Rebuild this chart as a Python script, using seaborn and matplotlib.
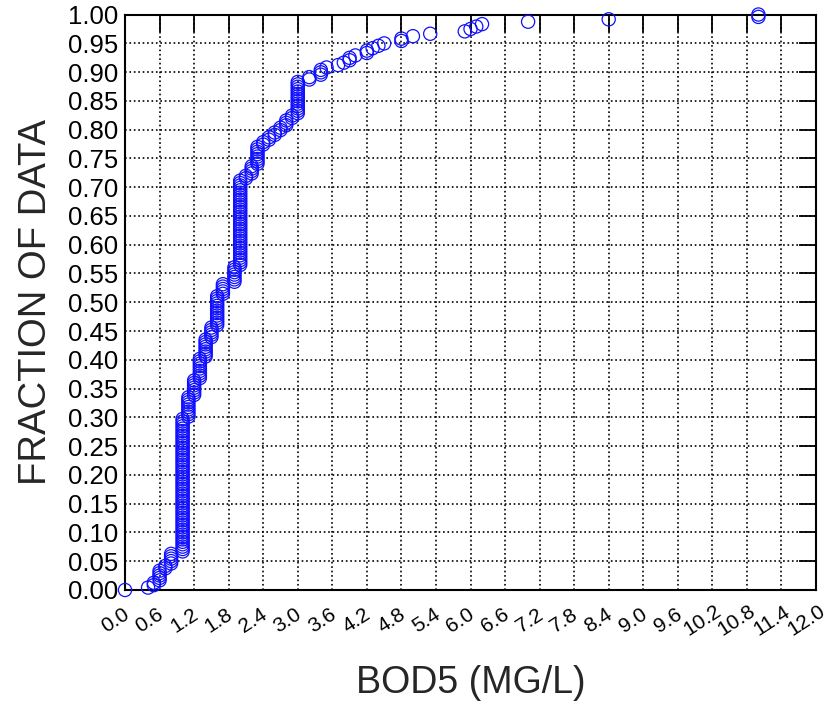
import numpy as np
import pandas as pd
import matplotlib
matplotlib.use("Agg")
import matplotlib.pyplot as plt
from matplotlib.transforms import ScaledTranslation
import seaborn as sns

# Observed BOD5 concentrations (mg/L) and how many samples share each value
bod5_values = [0.0, 0.4, 0.5, 0.6, 0.7, 0.8, 1.0, 1.1, 1.2, 1.3, 1.4, 1.5, 1.6, 1.7,
               1.9, 2.0, 2.1, 2.2, 2.3, 2.4, 2.5, 2.6, 2.7, 2.8, 2.9, 3.0, 3.2, 3.4,
               3.5, 3.7, 3.8, 3.9, 4.0, 4.2, 4.3, 4.4, 4.5, 4.8, 5.0, 5.3, 5.9, 6.0,
               6.1, 6.2, 7.0, 8.4, 11.0]
bod5_counts = [1, 1, 2, 5, 2, 5, 56, 9, 7, 9, 8, 5, 13, 5,
               7, 36, 2, 4, 8, 2, 2, 2, 2, 3, 2, 14, 2, 3,
               1, 1, 1, 2, 1, 2, 1, 1, 1, 2, 1, 1, 1, 1,
               1, 1, 1, 1, 2]

x_ticks = [0.0, 0.6, 1.2, 1.8, 2.4, 3.0, 3.6, 4.2, 4.8, 5.4, 6.0, 6.6, 7.2, 7.8,
           8.4, 9.0, 9.6, 10.2, 10.8, 11.4, 12.0]
y_ticks = [0.00, 0.05, 0.10, 0.15, 0.20, 0.25, 0.30, 0.35, 0.40, 0.45, 0.50,
           0.55, 0.60, 0.65, 0.70, 0.75, 0.80, 0.85, 0.90, 0.95, 1.00]

# Empirical cumulative distribution: sorted samples vs. fraction of data
samples = np.sort(np.repeat(bod5_values, bod5_counts))
n = len(samples)
df = pd.DataFrame({"bod5": samples,
                   "fraction": np.arange(n) / (n - 1)})

sns.set_style("white")
plt.rcParams["font.family"] = ["Liberation Sans", "DejaVu Sans"]

fig = plt.figure(figsize=(8.28, 7.11), dpi=100)
ax = fig.add_axes([0.151, 0.1702, 0.8345, 0.8094])

sns.scatterplot(data=df, x="bod5", y="fraction", ax=ax,
                marker="o", s=90, facecolors="none", edgecolor="#1010ff",
                linewidth=0.9, clip_on=False, zorder=3, legend=False)

ax.set_xlim(0, 12)
ax.set_ylim(0, 1)

ax.grid(True, color="black", linestyle=":", linewidth=1.2, zorder=0)
ax.set_axisbelow(True)

for side in ["left", "right", "top", "bottom"]:
    ax.spines[side].set_visible(True)
    ax.spines[side].set_color("black")
    ax.spines[side].set_linewidth(1.5)

# Inward ticks only on the top and right edges
ax.tick_params(axis="x", which="major", bottom=False, top=True,
               direction="in", length=12, width=1.3, pad=22, colors="black",
               labelbottom=True, labeltop=False)
ax.tick_params(axis="y", which="major", left=False, right=True,
               direction="in", length=12, width=1.3, pad=5, colors="black",
               labelleft=True, labelright=False)

ax.set_xticks(x_ticks)
ax.set_yticks(y_ticks)
ax.set_xticklabels([f"{v:.1f}" for v in x_ticks], rotation=33,
                   ha="center", va="center", rotation_mode="anchor",
                   fontsize=15)
ax.set_yticklabels([f"{v:.2f}" for v in y_ticks], fontsize=18.5)

# Nudge the slanted x labels slightly to the left of their ticks
shift = ScaledTranslation(-10 / 100, 0, fig.dpi_scale_trans)
for lab in ax.get_xticklabels():
    lab.set_transform(lab.get_transform() + shift)

ax.set_xlabel("BOD5 (MG/L)", fontsize=27)
ax.xaxis.set_label_coords(0.5, -0.13)
ax.set_ylabel("FRACTION OF DATA", fontsize=27.5, labelpad=10)

fig.savefig("out.png", dpi=100)
